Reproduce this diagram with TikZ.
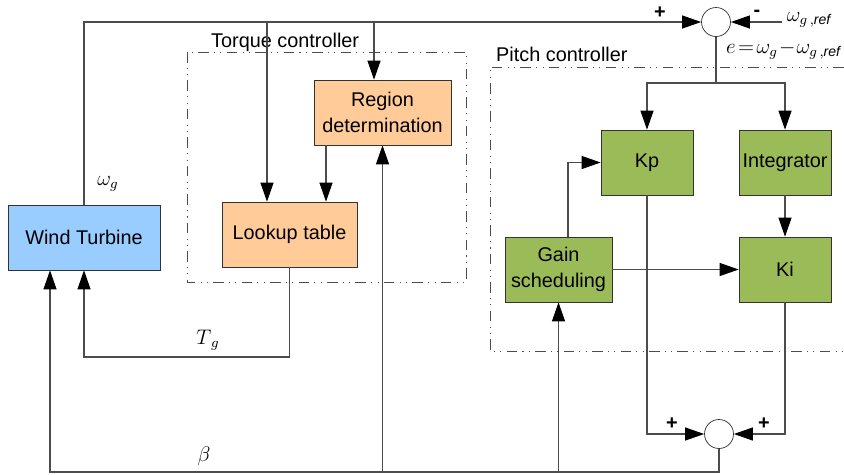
\documentclass[tikz,border=0pt]{standalone}
\usepackage{fontspec}
\setmainfont{Liberation Sans}
\usetikzlibrary{arrows.meta}
\definecolor{turbblue}{RGB}{153,204,255}
\definecolor{tqorange}{RGB}{255,204,153}
\definecolor{pcgreen}{RGB}{155,187,89}
\begin{document}
\begin{tikzpicture}[x=0.02cm,y=-0.02cm,every node/.style={font=\fontsize{11.3}{14.5}\selectfont},
  blk/.style={draw=black!80,minimum height=1.3cm,align=center,inner sep=1pt},
  turb/.style={blk,fill=turbblue,minimum width=3.04cm},
  tq/.style={blk,fill=tqorange},
  pc/.style={blk,fill=pcgreen,minimum width=1.84cm},
  sumc/.style={circle,draw=black!80,fill=white,minimum size=0.58cm,inner sep=0pt},
  ar/.style={-{Triangle[length=0.38cm,width=0.26cm,color=black]}},
  sig/.style={draw=black!70,line width=0.6pt},
  dbox/.style={draw=black!70,dash pattern=on 6pt off 3pt on 0.6pt off 3pt on 0.6pt off 3pt},
  mlab/.style={font=\large}]
 \useasboundingbox (0,0) rectangle (844,474);
 % controller frames
 \draw[dbox] (187,52) rectangle (466,282);
 \draw[dbox] (844,67) -- (490,67) -- (490,351) -- (844,351);
 \node[anchor=west] (tqlab) at (205,42) {Torque controller};
 \node[anchor=west] (pclab) at (490,54) {Pitch controller};
 % blocks
 \node[turb] (wt) at (84,237.5) {Wind Turbine};
 \node[tq,minimum width=2.74cm] (reg) at (382.5,112.5) {Region\\determination};
 \node[tq,minimum width=2.7cm] (lut) at (289.5,234.5) {Lookup table};
 \node[pc] (kp) at (647,162.5) {Kp};
 \node[pc] (integ) at (785,162.5) {Integrator};
 \node[pc] (ki) at (785,269.5) {Ki};
 \node[pc,minimum width=2.14cm] (gs) at (558.5,269.5) {Gain\\scheduling};
 \node[sumc] (s1) at (716,22) {};
 \node[sumc] (s2) at (719,434) {};
 % helper points
 \coordinate (tl) at (267,22);
 \coordinate (tr) at (374,22);
 \coordinate (rl) at (326,0);
 \coordinate (tg) at (0,357);
 \coordinate (bb) at (50,472);
 \coordinate (eb) at (0,83);
 \coordinate (gk) at (568,0);
 \coordinate (ref) at (782,22);
 % torque loop
 \draw[sig,ar] (wt.north) |- (s1.west);
 \draw[sig,ar] (tl) -- (tl |- lut.north);
 \draw[sig,ar] (tr) -- (tr |- reg.north);
 \draw[sig,ar] (reg.south -| rl) -- (lut.north -| rl);
 \draw[sig,ar] (lut.south) -- (lut.south |- tg) -| (wt.south);
 % pitch loop
 \draw[sig,ar] (ref) -- (s1.east);
 \draw[sig] (s1.south) -- (s1.south |- eb);
 \draw[sig,ar] (s1.south |- eb) -| (kp.north);
 \draw[sig,ar] (s1.south |- eb) -| (integ.north);
 \draw[sig,ar] (integ.south) -- (ki.north);
 \draw[sig,ar] (gs.north -| gk) |- (kp.west);
 \draw[sig,ar] (gs.east) -- (ki.west);
 \draw[sig,ar] (kp.south) |- (s2.west);
 \draw[sig,ar] (ki.south) |- (s2.east);
 \draw[sig,ar] (s2.south) |- (bb) -- (bb |- wt.south);
 \draw[sig,ar] (reg.south |- bb) -- (reg.south);
 \draw[sig,ar] (gs.south |- bb) -- (gs.south);
 % signal labels
 \node[mlab] (wg) at (108,184) {$\omega_{g}$};
 \node[mlab] (tgl) at (208,340) {$T_{\,g}$};
 \node[mlab] (bl) at (204,456) {$\beta$};
 \node[mlab] (wref) at (809,20) {$\omega_{g\,,\mathit{ref}}$};
 \node[mlab,anchor=west] (el) at (720,50) {$e\!=\!\omega_{g}\!-\!\omega_{g\,,\mathit{ref}}$};
 \node (p1) at (660,13) {\textbf{+}};
 \node (m1) at (757,13) {\textbf{-}};
 \node (p2) at (672,424) {\textbf{+}};
 \node (p3) at (764,424) {\textbf{+}};
\end{tikzpicture}
\end{document}
